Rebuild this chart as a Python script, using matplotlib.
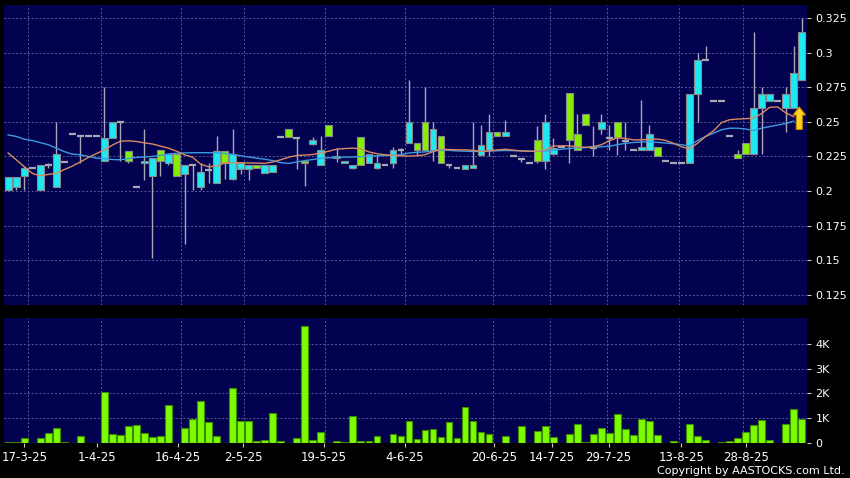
import matplotlib
matplotlib.use('Agg')
import matplotlib.pyplot as plt
from matplotlib.patches import FancyArrow

# candle data, one entry per trading day (index 0..99)
opens = [0.201, 0.203, 0.211, 0.217, 0.201, 0.219, 0.203, 0.221, 0.241, 0.240,
         0.240, 0.240, 0.222, 0.238, 0.250, 0.229, 0.203, 0.220, 0.211, 0.230,
         0.220, 0.227, 0.212, 0.219, 0.203, 0.215, 0.206, 0.229, 0.209, 0.216,
         0.216, 0.219, 0.213, 0.214, 0.239, 0.245, 0.238, 0.222, 0.234, 0.219,
         0.248, 0.224, 0.220, 0.217, 0.239, 0.220, 0.217, 0.219, 0.220, 0.230,
         0.235, 0.235, 0.250, 0.230, 0.240, 0.219, 0.217, 0.216, 0.217, 0.226,
         0.230, 0.243, 0.240, 0.225, 0.223, 0.220, 0.237, 0.222, 0.227, 0.232,
         0.271, 0.241, 0.256, 0.231, 0.245, 0.238, 0.250, 0.236, 0.230, 0.230,
         0.230, 0.232, 0.222, 0.220, 0.220, 0.220, 0.270, 0.295, 0.265, 0.265,
         0.240, 0.227, 0.235, 0.227, 0.260, 0.265, 0.265, 0.260, 0.260, 0.280]
closes = [0.210, 0.210, 0.217, 0.217, 0.219, 0.219, 0.227, 0.221, 0.241, 0.240,
          0.240, 0.240, 0.238, 0.250, 0.250, 0.222, 0.203, 0.222, 0.224, 0.222,
          0.227, 0.211, 0.219, 0.219, 0.214, 0.215, 0.229, 0.220, 0.227, 0.220,
          0.219, 0.217, 0.219, 0.219, 0.239, 0.239, 0.238, 0.220, 0.237, 0.230,
          0.240, 0.225, 0.222, 0.219, 0.219, 0.227, 0.220, 0.219, 0.230, 0.230,
          0.250, 0.230, 0.230, 0.245, 0.220, 0.219, 0.217, 0.219, 0.219, 0.233,
          0.243, 0.240, 0.243, 0.225, 0.223, 0.220, 0.222, 0.250, 0.231, 0.232,
          0.237, 0.230, 0.248, 0.231, 0.250, 0.238, 0.239, 0.236, 0.230, 0.232,
          0.241, 0.225, 0.222, 0.220, 0.220, 0.270, 0.295, 0.295, 0.265, 0.265,
          0.240, 0.224, 0.227, 0.260, 0.270, 0.270, 0.265, 0.270, 0.285, 0.315]
highs = [0.210, 0.210, 0.218, 0.217, 0.219, 0.220, 0.250, 0.221, 0.241, 0.240,
         0.240, 0.240, 0.275, 0.250, 0.250, 0.229, 0.203, 0.245, 0.224, 0.230,
         0.227, 0.227, 0.219, 0.219, 0.220, 0.220, 0.240, 0.229, 0.245, 0.220,
         0.219, 0.219, 0.219, 0.219, 0.239, 0.245, 0.238, 0.222, 0.239, 0.240,
         0.248, 0.231, 0.222, 0.219, 0.239, 0.227, 0.226, 0.219, 0.232, 0.231,
         0.280, 0.235, 0.275, 0.250, 0.240, 0.219, 0.217, 0.219, 0.250, 0.248,
         0.256, 0.243, 0.251, 0.225, 0.223, 0.220, 0.247, 0.256, 0.238, 0.232,
         0.271, 0.256, 0.256, 0.247, 0.256, 0.248, 0.250, 0.250, 0.230, 0.266,
         0.248, 0.232, 0.222, 0.220, 0.220, 0.270, 0.300, 0.305, 0.265, 0.265,
         0.240, 0.230, 0.235, 0.315, 0.275, 0.270, 0.265, 0.275, 0.305, 0.325]
lows = [0.200, 0.201, 0.201, 0.217, 0.201, 0.217, 0.203, 0.221, 0.241, 0.220,
        0.240, 0.240, 0.222, 0.238, 0.222, 0.220, 0.203, 0.208, 0.152, 0.211,
        0.219, 0.211, 0.162, 0.201, 0.201, 0.206, 0.206, 0.209, 0.208, 0.212,
        0.208, 0.217, 0.213, 0.214, 0.239, 0.239, 0.216, 0.204, 0.233, 0.219,
        0.240, 0.221, 0.220, 0.216, 0.219, 0.220, 0.216, 0.219, 0.217, 0.227,
        0.235, 0.226, 0.230, 0.222, 0.220, 0.217, 0.217, 0.216, 0.217, 0.225,
        0.225, 0.240, 0.240, 0.225, 0.221, 0.220, 0.220, 0.216, 0.226, 0.232,
        0.220, 0.230, 0.248, 0.225, 0.241, 0.230, 0.226, 0.230, 0.230, 0.230,
        0.230, 0.225, 0.222, 0.220, 0.220, 0.220, 0.250, 0.295, 0.265, 0.265,
        0.240, 0.224, 0.227, 0.227, 0.227, 0.265, 0.265, 0.243, 0.260, 0.280]
volumes = [30, 40, 200, 0, 220, 400, 620, 60, 0, 280,
           0, 0, 2050, 370, 330, 700, 740, 400, 260, 300,
           1550, 0, 600, 950, 1700, 850, 300, 0, 2200, 900,
           900, 80, 120, 1200, 80, 0, 220, 4700, 130, 430,
           0, 80, 40, 1100, 70, 70, 280, 0, 370, 300,
           900, 150, 530, 550, 250, 850, 220, 1450, 900, 450,
           380, 0, 280, 0, 680, 0, 500, 680, 250, 0,
           350, 780, 30, 350, 600, 420, 1150, 580, 330, 950,
           880, 330, 0, 70, 0, 750, 300, 120, 0, 30,
           100, 200, 450, 720, 930, 120, 0, 780, 1370, 980]
# moving averages as drawn on the chart
ma_short = [0.2275, 0.2226, 0.2177, 0.2128, 0.2110, 0.2120, 0.2128, 0.2155, 0.2180, 0.2210,
            0.2243, 0.2270, 0.2297, 0.2332, 0.2360, 0.2363, 0.2358, 0.2348, 0.2340, 0.2325,
            0.2310, 0.2288, 0.2262, 0.2245, 0.2195, 0.2175, 0.2180, 0.2203, 0.2205, 0.2205,
            0.2203, 0.2202, 0.2200, 0.2210, 0.2226, 0.2245, 0.2257, 0.2260, 0.2264, 0.2275,
            0.2288, 0.2303, 0.2307, 0.2310, 0.2305, 0.2283, 0.2270, 0.2262, 0.2257, 0.2255,
            0.2253, 0.2255, 0.2262, 0.2285, 0.2302, 0.2300, 0.2298, 0.2298, 0.2294, 0.2287,
            0.2290, 0.2297, 0.2302, 0.2296, 0.2290, 0.2288, 0.2287, 0.2298, 0.2325, 0.2327,
            0.2327, 0.2320, 0.2316, 0.2320, 0.2335, 0.2363, 0.2385, 0.2380, 0.2370, 0.2370,
            0.2375, 0.2375, 0.2366, 0.2345, 0.2320, 0.2305, 0.2345, 0.2394, 0.2435, 0.2495,
            0.2515, 0.2520, 0.2523, 0.2527, 0.2560, 0.2605, 0.2608, 0.2565, 0.2538]
ma_long = [0.2405, 0.2395, 0.2375, 0.2365, 0.2350, 0.2335, 0.2310, 0.2285, 0.2267, 0.2262,
           0.2250, 0.2238, 0.2234, 0.2228, 0.2226, 0.2235, 0.2243, 0.2246, 0.2250, 0.2258,
           0.2268, 0.2272, 0.2276, 0.2277, 0.2277, 0.2277, 0.2276, 0.2272, 0.2265, 0.2255,
           0.2246, 0.2238, 0.2230, 0.2220, 0.2205, 0.2200, 0.2210, 0.2220, 0.2228, 0.2236,
           0.2240, 0.2243, 0.2245, 0.2246, 0.2249, 0.2252, 0.2255, 0.2257, 0.2259, 0.2262,
           0.2275, 0.2280, 0.2283, 0.2290, 0.2296, 0.2294, 0.2290, 0.2288, 0.2286, 0.2287,
           0.2289, 0.2291, 0.2293, 0.2292, 0.2290, 0.2288, 0.2286, 0.2290, 0.2295, 0.2302,
           0.2308, 0.2311, 0.2314, 0.2317, 0.2320, 0.2324, 0.2335, 0.2345, 0.2351, 0.2354,
           0.2358, 0.2352, 0.2347, 0.2342, 0.2335, 0.2325, 0.2365, 0.2394, 0.2418, 0.2443,
           0.2454, 0.2454, 0.2448, 0.2438, 0.2454, 0.2466, 0.2477, 0.2488, 0.2505]

date_labels = ['17-3-25', '1-4-25', '16-4-25', '2-5-25', '19-5-25', '4-6-25',
               '20-6-25', '14-7-25', '29-7-25', '13-8-25', '28-8-25']
date_pos = [2.0, 11.1, 21.2, 29.3, 39.4, 49.5, 60.6, 67.8, 74.9, 84.0, 92.0]
grid_pos = [2.5, 11.6, 21.6, 29.4, 39.5, 49.5, 60.5, 67.6, 74.7, 83.7, 91.7]
price_ticks = [0.125, 0.15, 0.175, 0.2, 0.225, 0.25, 0.275, 0.3, 0.325]
vol_ticks = [0, 1000, 2000, 3000, 4000]

#colours
bg = '#020250'
up_col = '#1EE8F2'
down_col = '#84F000'
edge_col = '#8A8A8A'
wick_col = '#A8A8B4'
grid_col = '#5A5A96'

fig = plt.figure(figsize=(8.5, 4.78), dpi=100, facecolor='black')
ax = fig.add_axes([4/850, 1-305/478, 803/850, 300/478])
axv = fig.add_axes([4/850, 1-443/478, 803/850, 125/478])

n = len(opens)
idx = list(range(n))

for a in (ax, axv):
    a.set_facecolor(bg)
    for s in a.spines.values():
        s.set_visible(False)
    a.set_xlim(-0.52, 99.66)
    a.set_xticks(grid_pos, minor=True)
    a.grid(True, which='minor', axis='x', color=grid_col, linestyle=(0, (2, 2)), linewidth=0.7)
    a.grid(True, which='major', axis='y', color=grid_col, linestyle=(0, (2, 2)), linewidth=0.7)
    a.set_axisbelow(True)
    a.yaxis.tick_right()
    a.tick_params(axis='y', colors='#C8C8C8', labelcolor='white', length=3, width=0.8,
                  labelsize=8, pad=3)
    a.tick_params(axis='x', which='minor', length=0)

# price panel
ax.set_ylim(0.1177, 0.3344)
ax.set_yticks(price_ticks)
ax.set_yticklabels([('%g' % t) for t in price_ticks])
ax.set_xticks([])

ax.vlines(idx, lows, highs, color=wick_col, linewidth=1, zorder=2)
for i in idx:
    o, c = opens[i], closes[i]
    if o == c:
        ax.hlines(o, i - 0.42, i + 0.42, color=wick_col, linewidth=1.6, zorder=3)
    else:
        col = up_col if c > o else down_col
        ax.bar(i, abs(c - o), bottom=min(o, c), width=0.84, color=col,
               edgecolor=edge_col, linewidth=0.8, zorder=3)

ax.plot(range(len(ma_long)), ma_long, color='#3C9BE0', linewidth=1, zorder=4)
ax.plot(range(len(ma_short)), ma_short, color='#D98A62', linewidth=1, zorder=4)

arrow = FancyArrow(98.7, 0.2445, 0, 0.0162, width=0.75, head_width=1.55,
                   head_length=0.0058, length_includes_head=True,
                   facecolor='#FFD21E', edgecolor='#C88A00', linewidth=0.8, zorder=6)
ax.add_patch(arrow)

# volume panel
axv.set_ylim(0, 5040)
axv.set_yticks(vol_ticks)
axv.set_yticklabels(['0' if v == 0 else '%dK' % (v // 1000) for v in vol_ticks])
axv.bar(idx, volumes, width=0.84, color='#7CFC00', edgecolor='#3E8A00', linewidth=0.8, zorder=3)
axv.set_xticks(date_pos)
axv.set_xticklabels(date_labels)
axv.tick_params(axis='x', which='major', colors='#C8C8C8', labelcolor='white', length=3,
                width=0.8, labelsize=8.5, pad=3)

fig.text(845/850, 1-471/478, 'Copyright by AASTOCKS.com Ltd.', color='white', fontsize=8,
         ha='right', va='center')

fig.savefig('out.png', dpi=100, facecolor='black')
